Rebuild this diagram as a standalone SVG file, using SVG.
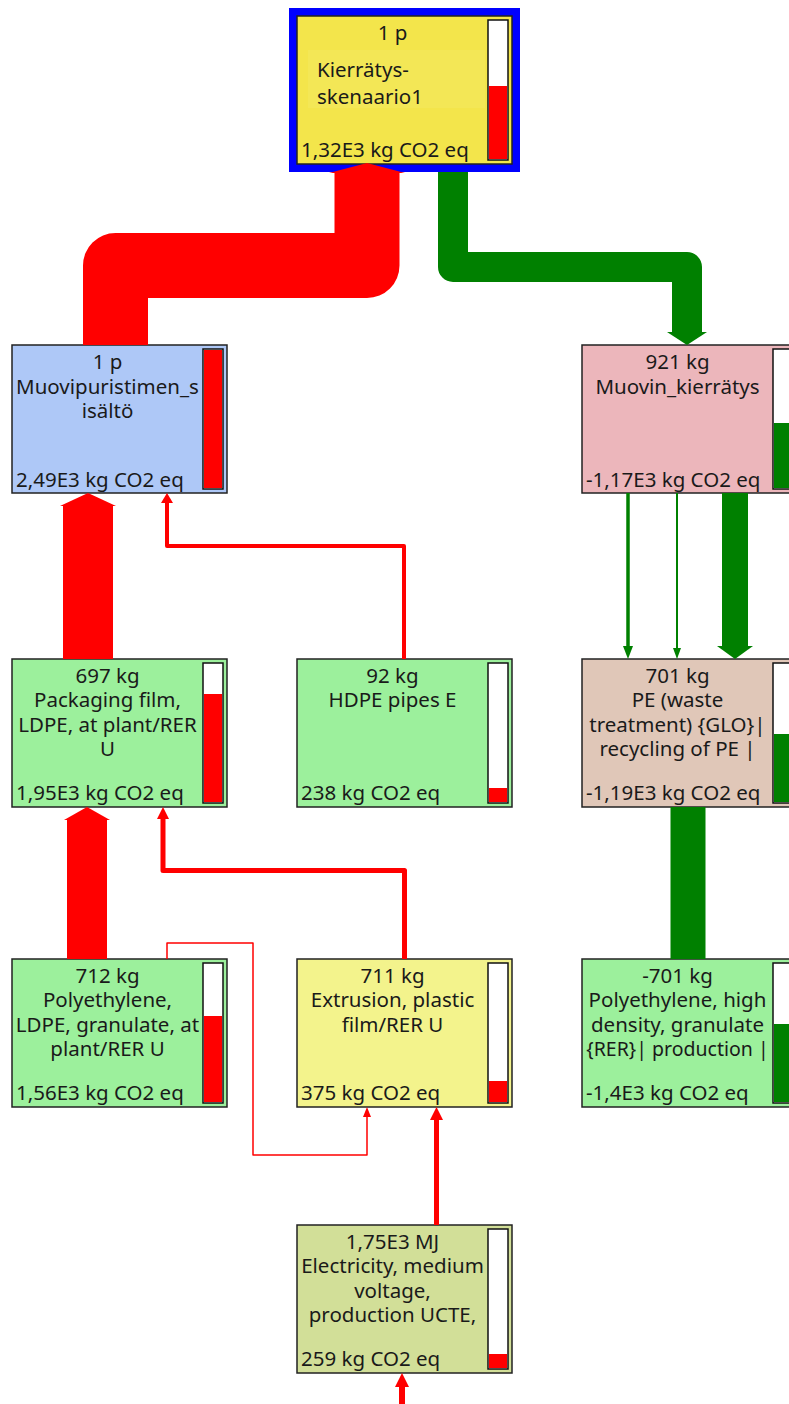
<svg xmlns="http://www.w3.org/2000/svg" width="789" height="1404" viewBox="0 0 789 1404">
  <style>
    .box { stroke: #222; stroke-width: 1.5; }
    .bar { fill: #fff; stroke: #111; stroke-width: 1.5; }
    .pos { fill: #ff0000; }
    .neg { fill: #008000; }
    text { font-family: "Noto Sans", "Open Sans", sans-serif; font-size: 20.5px; fill: #1a1a1a; }
    .c { text-anchor: middle; }
    .tight { font-size: 19.5px; }
    .rl { stroke: #ff0000; fill: none; stroke-linejoin: round; }
    .gl { stroke: #008000; fill: none; stroke-linejoin: round; }
    .rh { fill: #ff0000; }
    .gh { fill: #008000; }
  </style>

  <!-- top process: blue selection frame around yellow box -->
  <g id="node-kierratys">
    <rect x="293" y="12" width="223" height="156" fill="none" stroke="#0000ff" stroke-width="8"/>
    <rect class="box" x="297" y="16" width="215" height="148" fill="#f3e54b"/>
    <rect x="308" y="50" width="177" height="58" fill="#f3e756"/>
    <text class="c" x="392.5" y="40">1 p</text>
    <text x="317" y="77">Kierrätys-</text>
    <text x="317" y="104">skenaario1</text>
    <text x="301" y="157">1,32E3 kg CO2 eq</text>
    <rect class="bar" x="488" y="20" width="20" height="140"/>
    <rect class="pos" x="489" y="86" width="18" height="73"/>
  </g>

  <g id="node-muovipuristimen">
    <rect class="box" x="12" y="345" width="215" height="148" fill="#aec8f7"/>
    <text class="c" x="107.5" y="369">1 p</text>
    <text class="c" x="107.5" y="394">Muovipuristimen_s</text>
    <text class="c" x="107.5" y="418">isältö</text>
    <text x="16" y="487">2,49E3 kg CO2 eq</text>
    <rect class="bar" x="203" y="349" width="20" height="140"/>
    <rect class="pos" x="204" y="350" width="18" height="138"/>
  </g>

  <g id="node-muovin-kierratys">
    <rect class="box" x="582" y="345" width="215" height="148" fill="#ecb6bb"/>
    <text class="c" x="677.5" y="369">921 kg</text>
    <text class="c" x="677.5" y="394">Muovin_kierrätys</text>
    <text x="586" y="487">-1,17E3 kg CO2 eq</text>
    <rect class="bar" x="773" y="349" width="20" height="140"/>
    <rect class="neg" x="774" y="423" width="18" height="65"/>
  </g>

  <g id="node-packaging-film">
    <rect class="box" x="12" y="659" width="215" height="148" fill="#9cf09c"/>
    <text class="c" x="107.5" y="683">697 kg</text>
    <text class="c" x="107.5" y="707">Packaging film,</text>
    <text class="c" x="107.5" y="732">LDPE, at plant/RER</text>
    <text class="c" x="107.5" y="756">U</text>
    <text x="16" y="800">1,95E3 kg CO2 eq</text>
    <rect class="bar" x="203" y="663" width="20" height="140"/>
    <rect class="pos" x="204" y="694" width="18" height="108"/>
  </g>

  <g id="node-hdpe-pipes">
    <rect class="box" x="297" y="659" width="215" height="148" fill="#9cf09c"/>
    <text class="c" x="392.5" y="683">92 kg</text>
    <text class="c" x="392.5" y="707">HDPE pipes E</text>
    <text x="301" y="800">238 kg CO2 eq</text>
    <rect class="bar" x="488" y="663" width="20" height="140"/>
    <rect class="pos" x="489" y="788" width="18" height="14"/>
  </g>

  <g id="node-pe-recycling">
    <rect class="box" x="582" y="659" width="215" height="148" fill="#e0c7b8"/>
    <text class="c" x="677.5" y="683">701 kg</text>
    <text class="c" x="677.5" y="707">PE (waste</text>
    <text class="c" x="677.5" y="732">treatment) {GLO}|</text>
    <text class="c" x="677.5" y="756">recycling of PE |</text>
    <text x="586" y="800">-1,19E3 kg CO2 eq</text>
    <rect class="bar" x="773" y="663" width="20" height="140"/>
    <rect class="neg" x="774" y="734" width="18" height="68"/>
  </g>

  <g id="node-ldpe-granulate">
    <rect class="box" x="12" y="959" width="215" height="148" fill="#9cf09c"/>
    <text class="c" x="107.5" y="983">712 kg</text>
    <text class="c" x="107.5" y="1007">Polyethylene,</text>
    <text class="c" x="107.5" y="1032">LDPE, granulate, at</text>
    <text class="c" x="107.5" y="1056">plant/RER U</text>
    <text x="16" y="1100">1,56E3 kg CO2 eq</text>
    <rect class="bar" x="203" y="963" width="20" height="140"/>
    <rect class="pos" x="204" y="1016" width="18" height="86"/>
  </g>

  <g id="node-extrusion">
    <rect class="box" x="297" y="959" width="215" height="148" fill="#f3f38c"/>
    <text class="c" x="392.5" y="983">711 kg</text>
    <text class="c" x="392.5" y="1007">Extrusion, plastic</text>
    <text class="c" x="392.5" y="1032">film/RER U</text>
    <text x="301" y="1100">375 kg CO2 eq</text>
    <rect class="bar" x="488" y="963" width="20" height="140"/>
    <rect class="pos" x="489" y="1081" width="18" height="21"/>
  </g>

  <g id="node-hdpe-granulate">
    <rect class="box" x="582" y="959" width="215" height="148" fill="#9cf09c"/>
    <text class="c" x="677.5" y="983">-701 kg</text>
    <text class="c" x="677.5" y="1007">Polyethylene, high</text>
    <text class="c" x="677.5" y="1032">density, granulate</text>
    <text class="c tight" x="677.5" y="1056">{RER}| production |</text>
    <text x="586" y="1100">-1,4E3 kg CO2 eq</text>
    <rect class="bar" x="773" y="963" width="20" height="140"/>
    <rect class="neg" x="774" y="1024" width="18" height="78"/>
  </g>

  <g id="node-electricity">
    <rect class="box" x="297" y="1225" width="215" height="148" fill="#d2df98"/>
    <text class="c" x="392.5" y="1249">1,75E3 MJ</text>
    <text class="c" x="392.5" y="1273">Electricity, medium</text>
    <text class="c" x="392.5" y="1298">voltage,</text>
    <text class="c" x="392.5" y="1322">production UCTE,</text>
    <text x="301" y="1366">259 kg CO2 eq</text>
    <rect class="bar" x="488" y="1229" width="20" height="140"/>
    <rect class="pos" x="489" y="1354" width="18" height="14"/>
  </g>

  <!-- flows; width scales with contribution, heads at the receiving end -->
  <g id="connectors">
    <path class="rl" stroke-width="65" d="M115.5 345 V265.5 H367 V172"/>
    <polygon class="rh" points="329,173 367,163 405,173"/>

    <path class="gl" stroke-width="30" d="M453 172 V267 H687 V333"/>
    <polygon class="gh" points="667,332 707,332 687,345"/>

    <path class="rl" stroke-width="50" d="M88 659 V505"/>
    <polygon class="rh" points="60,506 116,506 88,493"/>

    <path class="rl" stroke-width="4" d="M404 659 V546 H167 V501"/>
    <polygon class="rh" points="161,503 173,503 167,493"/>

    <path class="rl" stroke-width="40" d="M87 959 V819"/>
    <polygon class="rh" points="64,820 110,820 87,807"/>

    <path class="rl" stroke-width="5" d="M404.5 959 V870.5 H163 V817"/>
    <polygon class="rh" points="157,819 169,819 163,807"/>

    <path class="rl" stroke-width="1.5" d="M167 959 V943 H253 V1155 H367 V1115"/>
    <polygon class="rh" points="363,1117 371,1117 367,1107"/>

    <path class="rl" stroke-width="5" d="M436.5 1225 V1118"/>
    <polygon class="rh" points="430,1120 443,1120 436.5,1107"/>

    <path class="rl" stroke-width="6" d="M402 1404 V1385"/>
    <polygon class="rh" points="395,1387 409,1387 402,1373"/>

    <path class="gl" stroke-width="3.5" d="M628 493 V648"/>
    <polygon class="gh" points="623,646 633,646 628,659"/>

    <path class="gl" stroke-width="2" d="M677 493 V650"/>
    <polygon class="gh" points="673,648 681,648 677,659"/>

    <path class="gl" stroke-width="26" d="M735 493 V647"/>
    <polygon class="gh" points="717,646 753,646 735,659"/>

    <path class="gl" stroke-width="35" d="M688 807 V959"/>
  </g>
</svg>
